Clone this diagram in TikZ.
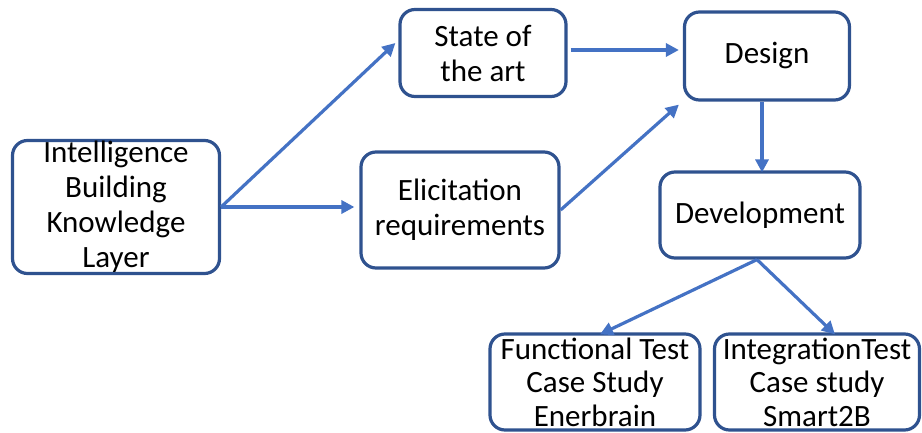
\documentclass[tikz,border=0pt]{standalone}
\usepackage{fontspec}
\setmainfont{Carlito}
\usepackage{xcolor}
\usetikzlibrary{arrows.meta}
\definecolor{boxline}{HTML}{2F528F}
\definecolor{arrowblue}{HTML}{4472C4}
\tikzstyle{block} = [rectangle, rounded corners=15pt, line width=3.2pt, draw=boxline, fill=white, text centered, align=center, font=\fontsize{31}{35}\selectfont, inner sep=0pt]
\tikzstyle{testblock} = [block, minimum height=96pt, font=\fontsize{31}{33.5}\selectfont]
\tikzstyle{arrow} = [line width=3.2pt, draw=arrowblue, -{Triangle[length=13pt,width=13pt]}]

\begin{document}
\begin{tikzpicture}[x=1pt, y=-1pt]
            \useasboundingbox (0,0) rectangle (922,433);
            \node (intel) [block, minimum width=207pt, minimum height=133pt] at (116,207) {Intelligence\\Building\\Knowledge\\Layer};
            \node (state) [block, minimum width=166pt, minimum height=87pt] at (483,53) {State of\\the art};
            \node (elicit) [block, minimum width=198pt, minimum height=116pt] at (460,210) {Elicitation\\requirements};
            \node (design) [block, minimum width=165pt, minimum height=88pt] at (767,56) {Design};
            \node (devel) [block, minimum width=200pt, minimum height=86pt] at (760,215) {Development};
            \node (functest) [testblock, minimum width=210pt] at (595,382) {Functional Test\\Case Study\\Enerbrain};
            \node (integtest) [testblock, minimum width=205pt] at (817,382) {IntegrationTest\\Case study\\Smart2B};

            \draw [arrow] (intel.east) -- ([xshift=-3pt,yshift=10pt]state.west);
            \draw [arrow] (intel.east) -- ([xshift=-5pt]intel.east -| elicit.west);
            \draw [arrow] ([xshift=3pt,yshift=3pt]state.east) -- ([xshift=-4pt,yshift=3pt]design.west |- state.east);
            \draw [arrow] (elicit.east) -- ([xshift=-4pt,yshift=-3pt]design.south west);
            \draw [arrow] ([xshift=-5pt]design.south) -- ([xshift=-5pt,yshift=-2pt]design.south |- devel.north);
            \draw [arrow] ([xshift=-3pt]devel.south) -- ([xshift=5pt,yshift=-2pt]functest.north);
            \draw [arrow] ([xshift=-3pt]devel.south) -- ([xshift=18pt,yshift=-2pt]integtest.north);
        \end{tikzpicture}
\end{document}
